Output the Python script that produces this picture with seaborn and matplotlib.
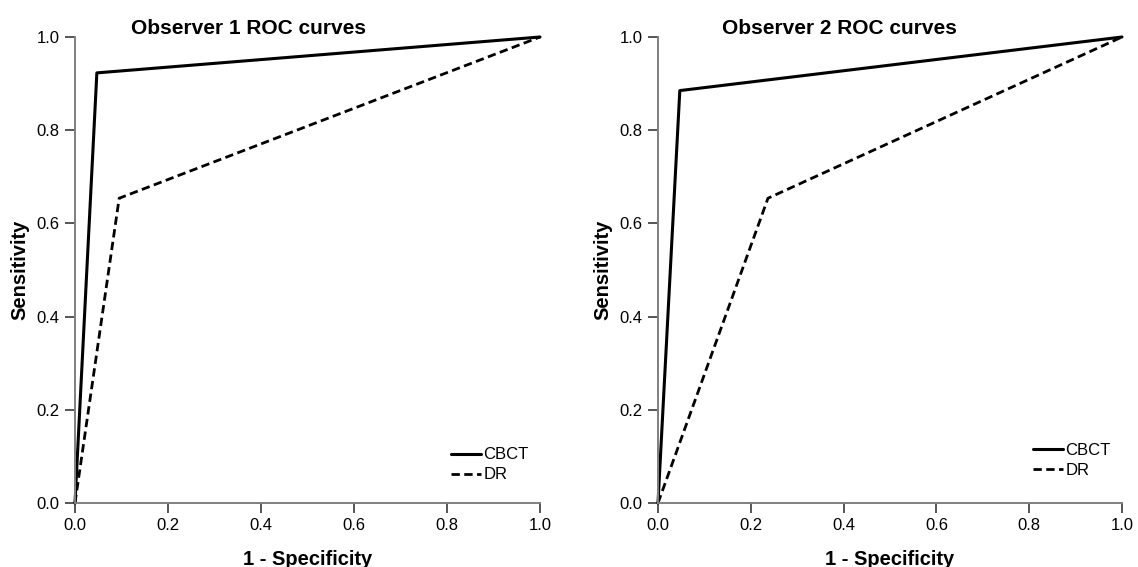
import matplotlib
matplotlib.use("Agg")
import matplotlib.pyplot as plt
import seaborn as sns
import pandas as pd

sns.set_style("white")
plt.rcParams['font.family'] = ['Liberation Sans', 'DejaVu Sans']
plt.rcParams['text.color'] = 'black'
plt.rcParams['axes.labelcolor'] = 'black'
plt.rcParams['xtick.color'] = 'black'
plt.rcParams['ytick.color'] = 'black'

# Data
obs1_cbct_fpr = [0.0, 0.047, 1.0]
obs1_cbct_tpr = [0.0, 0.923, 1.0]
obs1_dr_fpr = [0.0, 0.095, 1.0]
obs1_dr_tpr = [0.0, 0.654, 1.0]
obs2_cbct_fpr = [0.0, 0.047, 1.0]
obs2_cbct_tpr = [0.0, 0.885, 1.0]
obs2_dr_fpr = [0.0, 0.237, 1.0]
obs2_dr_tpr = [0.0, 0.654, 1.0]
titles = ["Observer 1 ROC curves", "Observer 2 ROC curves"]
ticks = [0.0, 0.2, 0.4, 0.6, 0.8, 1.0]
tick_labels = ["0.0", "0.2", "0.4", "0.6", "0.8", "1.0"]

fig = plt.figure(figsize=(11.38, 5.67), dpi=100)
ax1 = fig.add_axes([75/1138, 1-503/567, 465/1138, 466/567])
ax2 = fig.add_axes([658/1138, 1-503/567, 464/1138, 466/567])

panels = [
    (ax1, obs1_cbct_fpr, obs1_cbct_tpr, obs1_dr_fpr, obs1_dr_tpr, titles[0], 0.374, (0.99, 0.03)),
    (ax2, obs2_cbct_fpr, obs2_cbct_tpr, obs2_dr_fpr, obs2_dr_tpr, titles[1], 0.39, (0.99, 0.04)),
]

for ax, cf, ct, df, dt, title, tx, legpos in panels:
    d1 = pd.DataFrame({"x": cf, "y": ct})
    d2 = pd.DataFrame({"x": df, "y": dt})
    sns.lineplot(data=d1, x="x", y="y", ax=ax, color="black", lw=2.2, sort=False,
                 estimator=None, label="CBCT", clip_on=False)
    sns.lineplot(data=d2, x="x", y="y", ax=ax, color="black", lw=2.0, sort=False,
                 estimator=None, label="DR", linestyle=(0, (3, 1.6)), clip_on=False)
    ax.set_xlim(0, 1)
    ax.set_ylim(0, 1)
    ax.set_xticks(ticks)
    ax.set_xticklabels(tick_labels)
    ax.set_yticks(ticks)
    ax.set_yticklabels(tick_labels)
    for s in ["top", "right"]:
        ax.spines[s].set_visible(False)
    for s in ["left", "bottom"]:
        ax.spines[s].set_color("#7f7f7f")
        ax.spines[s].set_linewidth(1.4)
    ax.tick_params(axis="both", direction="out", length=7.5, width=1.4, color="#555555",
                   labelcolor="black", labelsize=12, pad=3.5, bottom=True, left=True)
    ax.set_xlabel("1 - Specificity", fontsize=14.5, fontweight="bold", labelpad=12)
    ax.set_ylabel("Sensitivity", fontsize=14.5, fontweight="bold", labelpad=5)
    ax.text(tx, 1.006, title, transform=ax.transAxes, ha="center", va="baseline",
            fontsize=15, fontweight="bold", color="black")
    leg = ax.legend(loc="lower right", bbox_to_anchor=legpos, frameon=False, fontsize=12,
                    handlelength=1.8, handletextpad=0.15, labelspacing=0.3, borderaxespad=0)
    for t in leg.get_texts():
        t.set_color("black")

fig.savefig("out.png", dpi=100)
